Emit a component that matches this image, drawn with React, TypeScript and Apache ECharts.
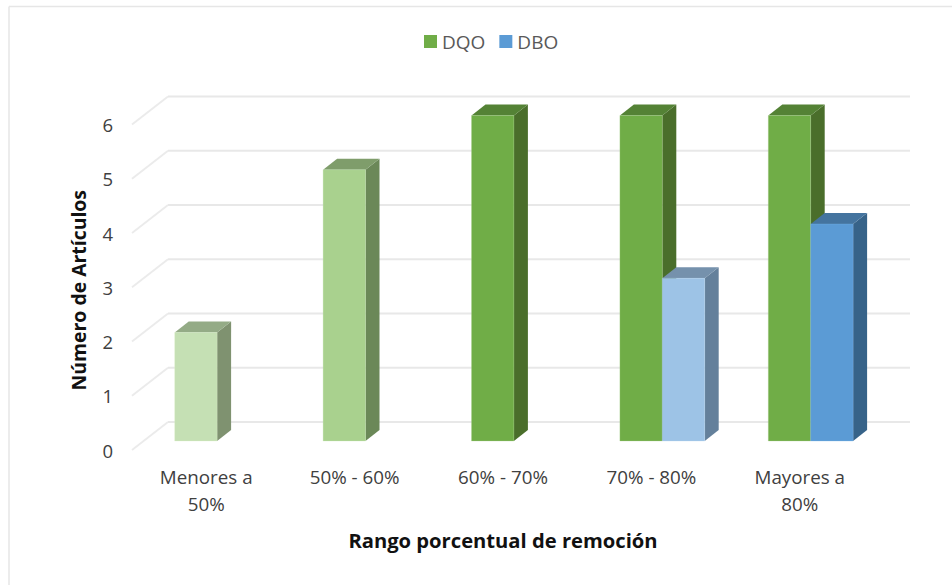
import React, { useEffect, useRef } from "react";
import * as echarts from "echarts";

const categories = ["Menores a\n50%", "50% - 60%", "60% - 70%", "70% - 80%", "Mayores a\n80%"];
const dqoValues = [2, 5, 6, 6, 6];
const dboValues = [0, 0, 0, 3, 4];
const yTicks = [0, 1, 2, 3, 4, 5, 6];

type Shade = { front: string; top: string; side: string; edge: string };
const GREEN_FULL: Shade = { front: "#70AD47", top: "#548235", side: "#4A6E2B", edge: "#A9D18E" };
const GREEN_MID: Shade = { front: "#A9D18E", top: "#7F9D6B", side: "#6B8858", edge: "#C5E8B0" };
const GREEN_LIGHT: Shade = { front: "#C5E0B4", top: "#94AB86", side: "#7F9270", edge: "#D8F2C8" };
const BLUE_FULL: Shade = { front: "#5B9BD5", top: "#44749F", side: "#376389", edge: "#7FB8EA" };
const BLUE_LIGHT: Shade = { front: "#9DC3E6", top: "#7591AC", side: "#64809B", edge: "#B5D6F2" };
const dqoShades = [GREEN_LIGHT, GREEN_MID, GREEN_FULL, GREEN_FULL, GREEN_FULL];
const dboShades = [BLUE_LIGHT, BLUE_LIGHT, BLUE_LIGHT, BLUE_LIGHT, BLUE_FULL];

const FONT = "'Open Sans', sans-serif";
const WALL = { dx: 36, dy: -28 };
const BAR_PLANE = { dx: 10.9, dy: -9 };
const BAR_DEPTH = { dx: 14, dy: -11 };
const BAR_RATIO = 0.2857;

function barSeries(name: string, color: string, values: number[], shades: Shade[], side: -1 | 0) {
  return {
    name,
    type: "custom",
    silent: true,
    z: 3,
    itemStyle: { color },
    data: values.map((v, i) => [i, v]),
    renderItem: (_p: any, api: any) => {
      const idx = api.value(0);
      const val = api.value(1);
      if (!val) return { type: "group", children: [] };
      const s = shades[idx];
      const w = api.size([1, 0])[0] * BAR_RATIO;
      const base = api.coord([idx, 0]);
      const top = api.coord([idx, val]);
      const x0 = base[0] + BAR_PLANE.dx + side * w;
      const x1 = x0 + w;
      const yb = base[1] + BAR_PLANE.dy;
      const yt = top[1] + BAR_PLANE.dy;
      const { dx, dy } = BAR_DEPTH;
      return {
        type: "group",
        children: [
          {
            type: "polygon",
            shape: { points: [[x1, yt], [x1 + dx, yt + dy], [x1 + dx, yb + dy], [x1, yb]] },
            style: { fill: s.side },
          },
          {
            type: "polygon",
            shape: { points: [[x0, yt], [x0 + dx, yt + dy], [x1 + dx, yt + dy], [x1, yt]] },
            style: { fill: s.top },
          },
          {
            type: "rect",
            shape: { x: x0, y: yt, width: w, height: yb - yt },
            style: { fill: s.front, stroke: s.edge, lineWidth: 0.3 },
          },
        ],
      };
    },
  };
}

export default function App() {
  const ref = useRef<HTMLDivElement>(null);
  useEffect(() => {
    const chart = echarts.init(ref.current!, undefined, { renderer: "svg" });
    chart.setOption({
      animation: false,
      backgroundColor: "#fff",
      graphic: [
        { type: "line", shape: { x1: 9, y1: 6.5, x2: 952, y2: 6.5 }, style: { stroke: "#E6E6E6", lineWidth: 1.5 } },
        { type: "line", shape: { x1: 9, y1: 6.5, x2: 9, y2: 585 }, style: { stroke: "#E6E6E6", lineWidth: 1.5 } },
      ],
      legend: {
        data: ["DQO", "DBO"],
        top: 27,
        left: 419,
        itemWidth: 13,
        itemHeight: 13,
        itemGap: 14,
        icon: "rect",
        textStyle: { fontFamily: FONT, fontSize: 19, color: "#595959" },
      },
      grid: { left: 132, right: 78, top: 124.5, bottom: 135 },
      xAxis: {
        type: "category",
        data: categories,
        axisLine: { show: false },
        axisTick: { show: false },
        splitLine: { show: false },
        axisLabel: {
          interval: 0,
          margin: 13,
          fontFamily: FONT,
          fontSize: 18.8,
          lineHeight: 27.5,
          color: "#404040",
        },
        name: "Rango porcentual de remoción",
        nameLocation: "middle",
        nameGap: 80,
        nameTextStyle: { fontFamily: FONT, fontSize: 20.2, fontWeight: "bold", color: "#111" },
      },
      yAxis: {
        type: "value",
        min: 0,
        max: 6,
        interval: 1,
        axisLine: { show: false },
        axisTick: { show: false },
        splitLine: { show: false },
        axisLabel: { margin: 19, fontFamily: FONT, fontSize: 18.5, color: "#404040" },
        name: "Número de Artículos",
        nameLocation: "middle",
        nameGap: 44,
        nameTextStyle: { fontFamily: FONT, fontSize: 19.4, fontWeight: "bold", color: "#111", padding: [0, 6, 0, 0] },
      },
      series: [
        {
          name: "wall",
          type: "custom",
          silent: true,
          z: 1,
          data: yTicks.map((v) => [0, v]),
          renderItem: (p: any, api: any) => {
            const y = api.coord([0, api.value(1)])[1];
            const g = p.coordSys;
            return {
              type: "group",
              children: [
                {
                  type: "line",
                  shape: { x1: g.x, y1: y, x2: g.x + WALL.dx, y2: y + WALL.dy },
                  style: { stroke: "#EBEBEB", lineWidth: 1.8 },
                },
                {
                  type: "line",
                  shape: { x1: g.x + WALL.dx, y1: y + WALL.dy, x2: g.x + g.width + WALL.dx, y2: y + WALL.dy },
                  style: { stroke: "#E8E8E8", lineWidth: 2.2 },
                },
              ],
            };
          },
        },
        barSeries("DQO", "#70AD47", dqoValues, dqoShades, -1),
        barSeries("DBO", "#5B9BD5", dboValues, dboShades, 0),
      ],
    });
    return () => chart.dispose();
  }, []);
  return <div ref={ref} style={{ position: "absolute", left: 0, top: 0, width: 952, height: 585 }} />;
}
